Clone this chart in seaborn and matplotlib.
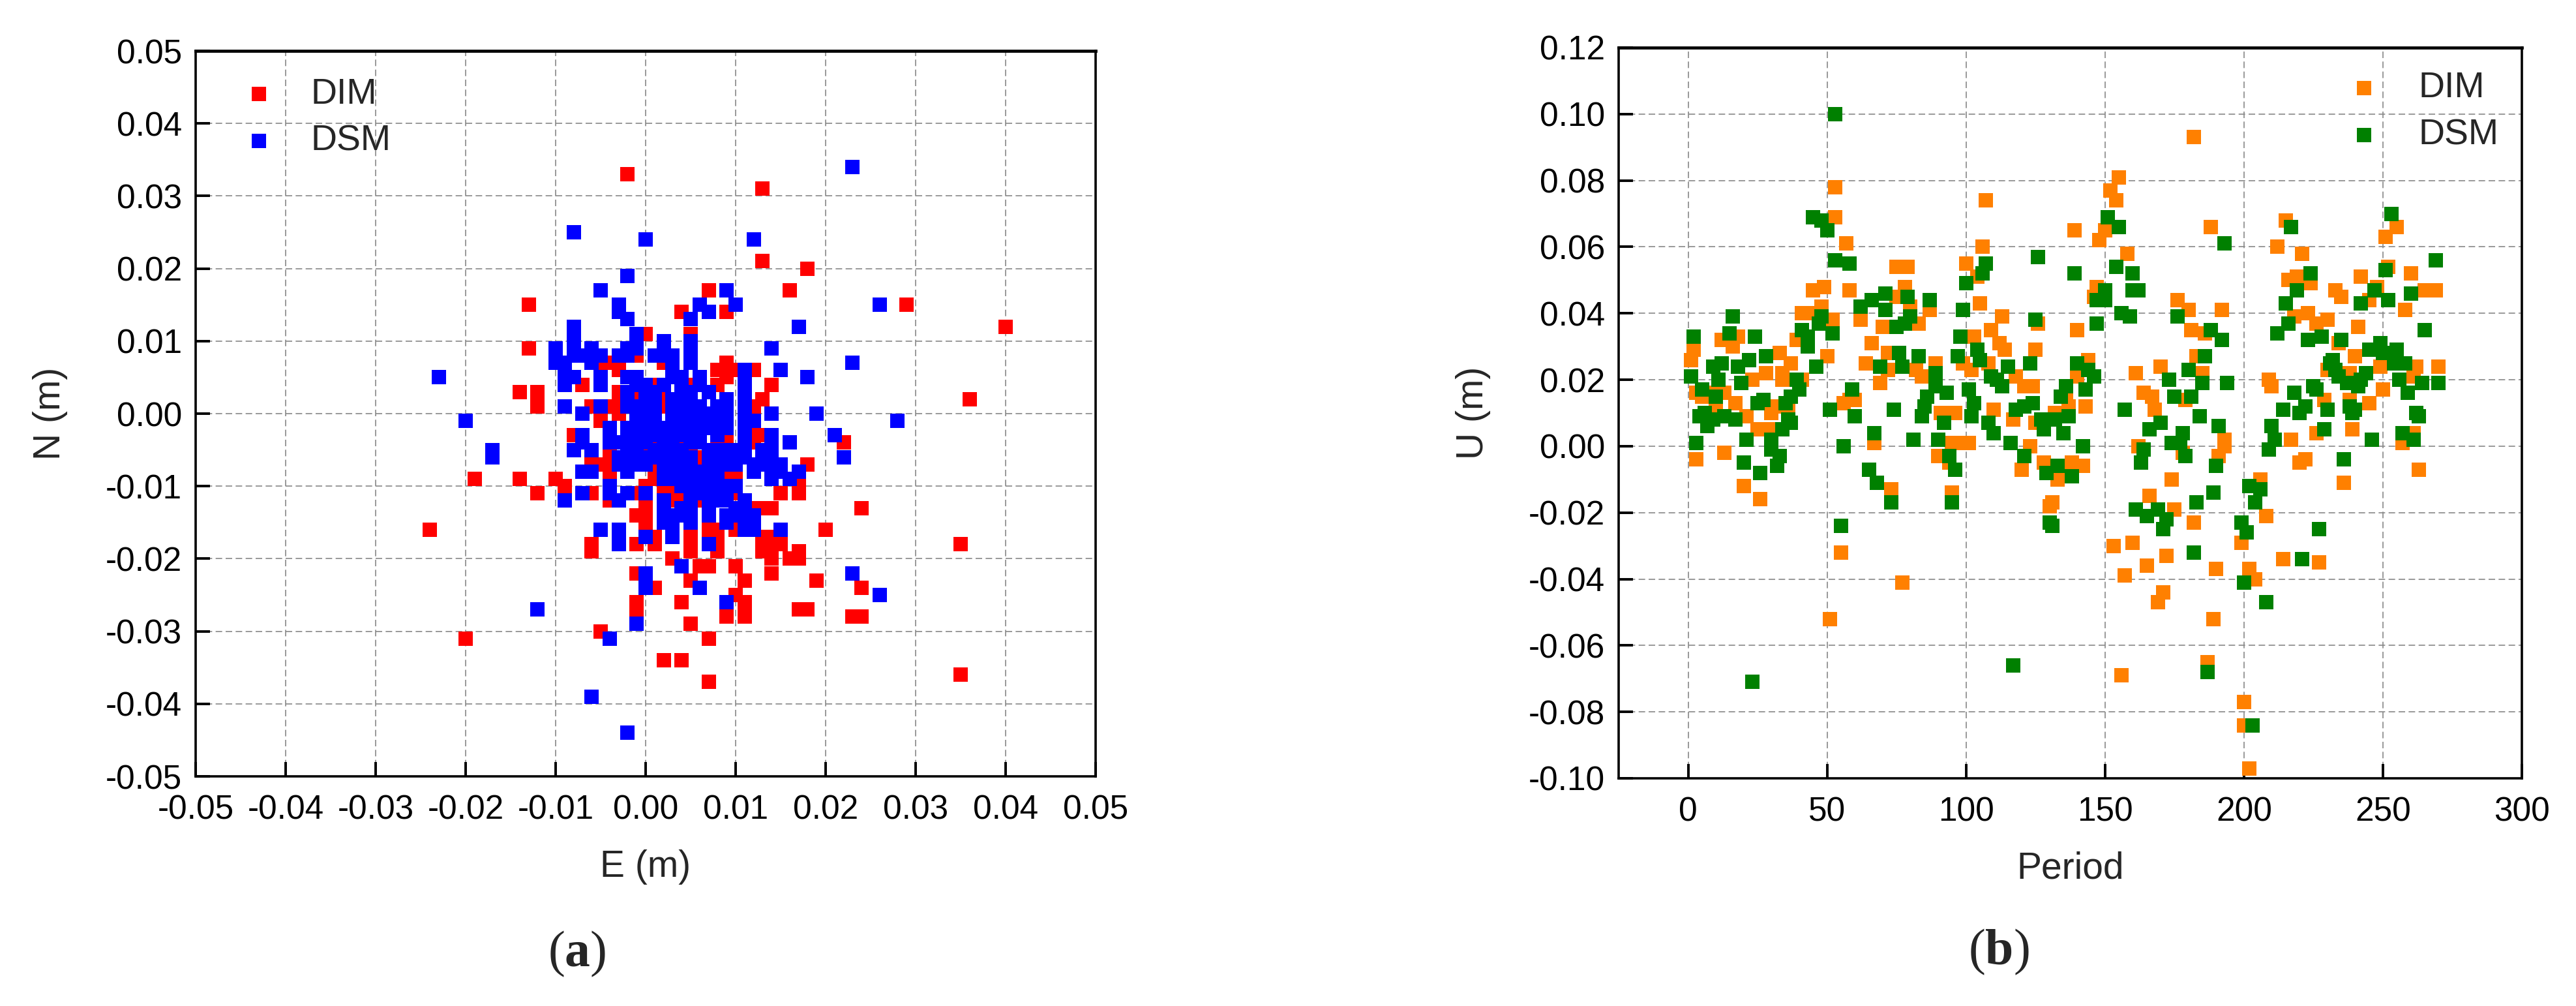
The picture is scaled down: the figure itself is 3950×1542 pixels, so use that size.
import pandas as pd
import seaborn as sns
import matplotlib.pyplot as plt

# panel (a), values in mm, N value -> E values on that row
dim_rows = {33: [-2], 31: [13], 21: [13], 20: [18], 17: [7, 16], 15: [-13, 29], 14: [4, 9], 12: [40],
            11: [0, 5], 9: [-13], 8: [-1], 7: [-5, -4, -3, 2, 9], 6: [-3, 8, 9, 10, 12], 5: [9],
            4: [-7, 1, 5, 8, 14], 3: [-14, -12, -3], 2: [-3, -1, 2, 13, 36], 1: [-12, -6, -4, 2, 12],
            0: [-5, -3, 12], -1: [-5, 12], -2: [0, 5, 6], -3: [-8, 6, 9, 12, 13], -4: [1, 4, 8, 9, 12, 22],
            -5: [-17, -4, 0, 5, 8], -6: [-4, -2, 6], -7: [-6, -5, -4, 18], -8: [-4, 1, 7, 9, 15],
            -9: [-19, -14, -10, -4, 1, 7, 9, 10], -10: [-9, 0, 8, 17], -11: [-12, -6, -1, 2, 3, 10, 15, 17],
            -12: [-4, 0, 2, 3, 4, 6], -13: [0, 12, 13, 14, 24], -14: [-1, 0], -15: [0],
            -16: [-24, 0, 7, 8, 10, 20], -17: [1, 5, 7, 8, 13, 14, 15], -18: [-6, -1, 1, 5, 8, 13, 14, 15, 35],
            -19: [-6, 5, 8, 13, 14, 17], -20: [3, 14, 16, 17], -21: [6, 7, 10], -22: [-1, 14],
            -23: [5, 11, 19], -24: [1, 24], -25: [10], -26: [-1, 4, 11], -27: [-1, 11, 17, 18],
            -28: [9, 11, 23, 24], -29: [5], -30: [-5], -31: [-20, 7], -34: [2, 4], -36: [35], -37: [7]}

dsm_rows = {34: [23], 25: [-8], 24: [0, 12], 19: [-2], 17: [-5, 9], 15: [-3, 6, 10, 26], 14: [-3, 7],
            13: [-2, 5], 12: [-8, 17], 11: [-8, -1], 10: [-8, -1, 2, 5], 9: [-10, -8, -6, -2, -1, 2, 5, 14],
            8: [-10, -8, -7, -6, -5, -3, -2, 1, 2, 3, 5], 7: [-10, -9, -6, 3, 5, 23], 6: [-9, 3, 11, 15],
            5: [-23, -9, -8, -5, -2, -1, 3, 4, 6, 11, 18], 4: [-9, -5, -1, 0, 2, 4, 6, 11],
            3: [-2, 0, 1, 4, 5, 7, 11], 2: [-2, 0, 1, 3, 4, 5, 9, 11],
            1: [-9, -5, -2, -1, 0, 1, 3, 4, 5, 6, 8, 9, 11], 0: [-7, -1, 0, 1, 3, 4, 5, 6, 7, 8, 9, 11, 14, 19],
            -1: [-20, -1, 0, 1, 3, 4, 5, 6, 7, 8, 9, 12, 28], -2: [-4, -2, -1, 1, 2, 3, 4, 6, 7, 8, 9, 11],
            -3: [-7, -4, -2, -1, 0, 1, 2, 3, 4, 5, 6, 8, 11, 14, 21],
            -4: [-7, -4, -3, -2, -1, 0, 2, 3, 5, 6, 11, 14, 16],
            -5: [-17, -8, -6, -2, -1, 1, 2, 3, 4, 7, 8, 9, 10, 11, 13, 14],
            -6: [-17, -3, -1, 0, 1, 2, 3, 4, 5, 7, 8, 9, 10, 11, 13, 14, 22],
            -7: [-3, -2, -1, 0, 3, 4, 5, 7, 8, 9, 10, 12, 13, 15],
            -8: [-7, -6, -2, 2, 3, 4, 5, 6, 12, 14, 15, 17], -9: [2, 3, 4, 5, 6, 7, 8, 14, 16],
            -10: [-4, 4, 5, 6, 7, 8, 9, 10], -11: [-7, -4, -2, 0, 5, 6, 7, 8, 9], -12: [-9, -3, 2, 5, 7, 8, 9, 11],
            -13: [2, 4, 5, 7, 10, 11], -14: [2, 3, 4, 5, 7, 9, 10, 12], -15: [2, 3, 5, 9, 11, 12],
            -16: [-5, -3, 3, 11, 12, 15], -17: [-3, 0, 3], -18: [-3, 7], -21: [4], -22: [0, 23], -23: [0],
            -24: [0, 6], -25: [26], -26: [9], -27: [-12], -29: [-1], -31: [-4], -39: [-6], -44: [-2]}

# panel (b), (period, U in mm)
dim_u = [(3, -4), (13, -2), (20, -12), (26, -16), (55, -32), (77, -41), (51, -52), (73, -13), (95, -14), (90, -3),
         (120, -7), (130, -18), (131, -17), (133, -10), (138, -5), (142, -6), (128, -5), (53, 78), (53, 69), (57, 61),
         (75, 54), (79, 54), (78, 48), (75, 45), (80, 42), (45, 47), (49, 48), (58, 47), (48, 42), (41, 40), (43, 40),
         (52, 38), (62, 38), (70, 36), (83, 37), (87, 41), (66, 31), (39, 32), (50, 27), (33, 28), (37, 25), (64, 25),
         (72, 23), (72, 28), (69, 19), (89, 25), (82, 23), (84, 21), (12, 32), (18, 33), (16, 30), (2, 29), (1, 26),
         (28, 22), (23, 20), (34, 22), (34, 20), (41, 20), (3, 16), (5, 15), (10, 16), (13, 16), (17, 13), (21, 9),
         (25, 5), (29, 5), (30, 10), (31, 12), (36, 12), (10, 11), (58, 14), (60, 14), (56, 13), (67, 1), (91, 10),
         (96, 10), (96, 1), (94, -5), (182, 93), (155, 81), (152, 77), (154, 74), (107, 74), (215, 68), (188, 66),
         (139, 65), (150, 65), (148, 62), (106, 60), (100, 55), (104, 51), (158, 58), (212, 60), (221, 58), (147, 48),
         (146, 45), (176, 44), (180, 41), (192, 41), (105, 43), (113, 39), (126, 37), (140, 35), (109, 35), (103, 33),
         (112, 31), (114, 29), (125, 29), (181, 35), (186, 34), (144, 26), (108, 25), (99, 25), (102, 23), (118, 21),
         (121, 18), (124, 18), (161, 22), (170, 24), (185, 22), (183, 27), (140, 21), (164, 16), (167, 15), (168, 11),
         (179, 14), (110, 11), (143, 12), (117, 8), (132, 10), (137, 12), (125, 7), (136, 16), (98, 1), (95, 1),
         (101, 1), (193, 2), (193, 0), (191, -3), (123, 0), (162, 0), (178, -2), (174, -10), (166, -15), (175, -19),
         (182, -23), (153, -30), (160, -29), (172, -33), (199, -29), (165, -36), (157, -39), (171, -44), (169, -47),
         (189, -52), (190, -37), (156, -69), (187, -65), (200, -77), (200, -84), (202, -97), (202, -37), (204, -40),
         (208, -21), (206, -10), (252, 54), (260, 52), (219, 51), (216, 50), (224, 49), (242, 51), (248, 48), (233, 47),
         (235, 45), (265, 47), (269, 47), (245, 44), (258, 41), (223, 40), (218, 39), (226, 37), (230, 38), (241, 36),
         (234, 31), (240, 27), (270, 24), (262, 24), (249, 24), (238, 22), (230, 23), (209, 20), (210, 18), (261, 21),
         (250, 17), (245, 13), (229, 14), (238, 14), (239, 5), (226, 4), (217, 2), (261, 4), (257, 1), (220, -5),
         (222, -4), (236, -11), (263, -7), (214, -34), (227, -35), (255, 66), (251, 63)]

dsm_u = [(53, 100), (45, 69), (48, 68), (50, 65), (253, 70), (217, 66), (155, 66), (151, 69), (193, 61), (126, 57),
         (53, 56), (58, 55), (154, 54), (107, 55), (106, 52), (100, 49), (139, 52), (160, 52), (224, 52), (269, 56),
         (251, 53), (16, 39), (2, 33), (15, 34), (24, 33), (28, 27), (22, 26), (18, 24), (12, 25), (9, 24), (11, 20),
         (1, 21), (19, 19), (5, 17), (10, 15), (6, 10), (4, 9), (7, 6), (9, 8), (13, 9), (17, 8), (3, 1), (21, 2),
         (30, 2), (30, -1), (33, -3), (32, -6), (20, -5), (26, -8), (27, 14), (25, 13), (35, 13), (37, 15), (40, 17),
         (39, 20), (37, 7), (34, 5), (36, 8), (41, 35), (43, 33), (43, 30), (48, 39), (47, 37), (52, 34), (46, 24),
         (62, 42), (66, 44), (71, 46), (71, 41), (79, 45), (87, 44), (80, 39), (78, 37), (75, 36), (76, 28), (83, 27),
         (77, 24), (69, 24), (59, 17), (51, 11), (60, 9), (74, 11), (84, 9), (92, 7), (81, 2), (90, 2), (67, 4),
         (56, 0), (65, -7), (68, -11), (73, -17), (95, -17), (55, -24), (89, 22), (89, 18), (93, 16), (86, 15),
         (85, 12), (89, 20), (94, -3), (96, -7), (150, 47), (160, 47), (162, 47), (147, 44), (150, 44), (156, 40),
         (159, 39), (147, 37), (99, 41), (125, 38), (98, 33), (104, 29), (105, 26), (97, 27), (109, 21), (115, 24),
         (111, 20), (113, 18), (123, 25), (101, 17), (103, 13), (102, 9), (124, 13), (121, 12), (118, 11), (108, 7),
         (110, 4), (116, 1), (121, -3), (140, 25), (144, 23), (146, 21), (143, 17), (136, 18), (134, 15), (127, 8),
         (132, 8), (137, 9), (128, 5), (135, 4), (142, 0), (129, -8), (133, -6), (138, -9), (130, -23), (131, -24),
         (157, 11), (170, 7), (166, 5), (178, 4), (174, 1), (177, 1), (179, -3), (164, -1), (163, -5), (190, -6),
         (191, 6), (184, 9), (181, 15), (175, 15), (173, 20), (180, 23), (185, 19), (186, 27), (194, 19), (176, 39),
         (188, 35), (192, 32), (202, -12), (189, -14), (183, -17), (161, -19), (165, -21), (169, -19), (172, -22),
         (171, -25), (199, -23), (201, -26), (182, -32), (200, -41), (117, -66), (187, -68), (203, -84), (23, -71),
         (252, 44), (247, 47), (242, 43), (219, 47), (215, 43), (260, 46), (265, 35), (216, 37), (212, 34), (228, 33),
         (223, 32), (235, 32), (249, 31), (245, 29), (250, 28), (255, 29), (254, 25), (258, 25), (232, 26), (231, 25),
         (233, 23), (234, 21), (237, 19), (241, 18), (244, 22), (242, 20), (256, 20), (259, 16), (264, 19), (270, 19),
         (225, 18), (226, 17), (218, 16), (222, 12), (220, 10), (214, 11), (230, 11), (238, 12), (240, 11), (239, 10),
         (262, 10), (263, 9), (210, 6), (211, 2), (209, -1), (229, 5), (257, 4), (261, 2), (246, 2), (236, -4),
         (206, -13), (204, -17), (221, -34), (227, -25), (208, -47)]

en_ticks = [-0.05, -0.04, -0.03, -0.02, -0.01, 0.00, 0.01, 0.02, 0.03, 0.04, 0.05]
en_labels = ['-0.05', '-0.04', '-0.03', '-0.02', '-0.01', '0.00', '0.01', '0.02', '0.03', '0.04', '0.05']
period_ticks = [0, 50, 100, 150, 200, 250, 300]
u_ticks = [-0.10, -0.08, -0.06, -0.04, -0.02, 0.00, 0.02, 0.04, 0.06, 0.08, 0.10, 0.12]
u_labels = ['-0.10', '-0.08', '-0.06', '-0.04', '-0.02', '0.00', '0.02', '0.04', '0.06', '0.08', '0.10', '0.12']

sns.set_theme(style='white')
plt.rcParams['font.family'] = ['Liberation Sans', 'DejaVu Sans']
plt.rcParams['mathtext.fontset'] = 'custom'
plt.rcParams['mathtext.bf'] = 'Liberation Serif:bold'


def rows_to_frame(rows):
    pts = [(e, n) for n, es in rows.items() for e in es]
    return pd.DataFrame({'E': [p[0] / 1000 for p in pts], 'N': [p[1] / 1000 for p in pts]})


def pairs_to_frame(pairs):
    return pd.DataFrame({'Period': [p[0] for p in pairs], 'U': [p[1] / 1000 for p in pairs]})


W, H = 3950, 1542
fig = plt.figure(figsize=(W / 100, H / 100), dpi=100)
ax1 = fig.add_axes([300 / W, 1 - 1190 / H, 1380 / W, 1112 / H])
ax2 = fig.add_axes([2482 / W, 1 - 1193 / H, 1385 / W, 1120 / H])

marker = dict(marker='s', s=265, linewidth=0, zorder=3, clip_on=False)
sns.scatterplot(data=rows_to_frame(dim_rows), x='E', y='N', color='#ff0000', label='DIM', ax=ax1, **marker)
sns.scatterplot(data=rows_to_frame(dsm_rows), x='E', y='N', color='#0000ff', label='DSM', ax=ax1, **marker)
sns.scatterplot(data=pairs_to_frame(dim_u), x='Period', y='U', color='#ff8000', label='DIM', ax=ax2, **marker)
sns.scatterplot(data=pairs_to_frame(dsm_u), x='Period', y='U', color='#008000', label='DSM', ax=ax2, **marker)

ax1.set_xlim(-0.05, 0.05)
ax1.set_ylim(-0.05, 0.05)
ax1.set_xticks(en_ticks)
ax1.set_xticklabels(en_labels)
ax1.set_yticks(en_ticks)
ax1.set_yticklabels(en_labels)
ax1.set_xlabel('E (m)', labelpad=25)
ax1.set_ylabel('N (m)', labelpad=42)

ax2.set_xlim(-25, 300)
ax2.set_ylim(-0.10, 0.12)
ax2.set_xticks(period_ticks)
ax2.set_yticks(u_ticks)
ax2.set_yticklabels(u_labels)
ax2.set_xlabel('Period', labelpad=25)
ax2.set_ylabel('U (m)', labelpad=42)

for ax in (ax1, ax2):
    ax.grid(True, color='#888888', linewidth=1.2, linestyle=(0, (6, 3.2)), zorder=1)
    ax.set_axisbelow(True)
    ax.tick_params(direction='in', length=16, width=2.8, labelsize=37, colors='black',
                   left=True, bottom=True, top=False, right=False)
    ax.tick_params(axis='x', pad=20)
    ax.tick_params(axis='y', pad=15)
    ax.xaxis.label.set_size(41)
    ax.yaxis.label.set_size(41)
    for s in ax.spines.values():
        s.set_linewidth(2.6)
        s.set_color('black')
        s.set_visible(True)
    ax.spines['top'].set_linewidth(3.4)

ax1.legend(loc=(0.03, 0.852), frameon=False, fontsize=40, handletextpad=0.43, labelspacing=0.36,
           markerscale=1, borderpad=0, borderaxespad=0)
ax2.legend(loc=(0.785, 0.857), frameon=False, fontsize=40, handletextpad=0.5, labelspacing=0.36,
           markerscale=1, borderpad=0, borderaxespad=0)

fig.text(885 / W, 1 - 1462 / H, r'($\mathbf{a}$)', family='Liberation Serif', fontsize=56, ha='center', va='center')
fig.text(3065 / W, 1 - 1459 / H, r'($\mathbf{b}$)', family='Liberation Serif', fontsize=56, ha='center', va='center')

plt.savefig('out.png', dpi=100, facecolor='white')
